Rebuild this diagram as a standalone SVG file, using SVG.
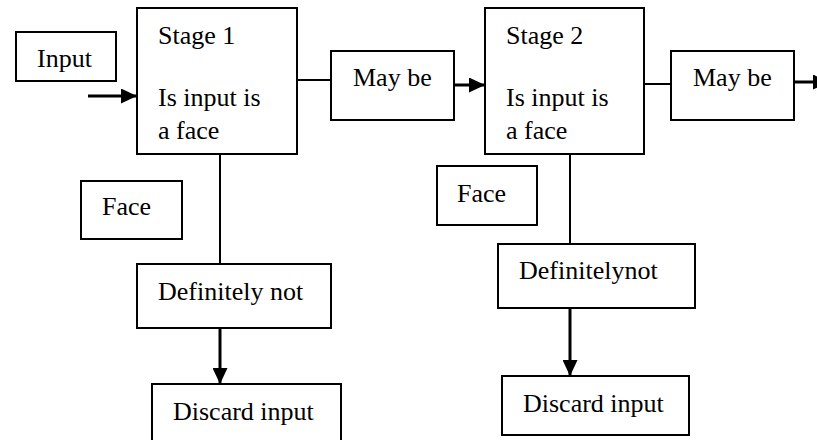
<svg xmlns="http://www.w3.org/2000/svg" width="817" height="440" viewBox="0 0 817 440">
<style>
.box{fill:#fff;stroke:#000;stroke-width:2}
.t{font-family:"Liberation Serif","Times New Roman",serif;font-size:26px;fill:#000}
.ln{stroke:#000;stroke-width:2;fill:none}
.ar{stroke:#000;stroke-width:3;fill:none;marker-end:url(#ah)}
</style>
<defs>
<marker id="ah" markerUnits="userSpaceOnUse" markerWidth="16" markerHeight="15" refX="16" refY="7.5" orient="auto">
<path d="M0,0 L16,7.5 L0,15 z" fill="#000"/>
</marker>
</defs>
<rect width="817" height="440" fill="#fff"/>
<g id="connectors">
<line class="ar" x1="88" y1="96" x2="137" y2="96"/>
<line class="ln" x1="297" y1="80" x2="331" y2="80"/>
<line class="ar" x1="454" y1="85" x2="485" y2="85"/>
<line class="ln" x1="644" y1="84" x2="671" y2="84"/>
<line class="ar" x1="794" y1="82" x2="829" y2="82"/>
<line class="ln" x1="220" y1="154" x2="220" y2="264"/>
<line class="ar" x1="220" y1="328" x2="220" y2="384"/>
<line class="ln" x1="570" y1="154" x2="570" y2="244"/>
<line class="ar" x1="570" y1="308" x2="570" y2="376"/>
</g>
<g id="input"><rect class="box" x="16" y="32" width="100" height="49"/><text class="t" x="37" y="67">Input</text></g>
<g id="stage1"><rect class="box" x="137" y="8" width="160" height="146"/><text class="t" x="158" y="44">Stage 1</text><text class="t" x="158" y="106">Is input is</text><text class="t" x="158" y="139">a face</text></g>
<g id="maybe1"><rect class="box" x="331" y="51" width="123" height="69"/><text class="t" x="353" y="86">May be</text></g>
<g id="stage2"><rect class="box" x="485" y="8" width="159" height="146"/><text class="t" x="506" y="44">Stage 2</text><text class="t" x="506" y="106">Is input is</text><text class="t" x="506" y="139">a face</text></g>
<g id="maybe2"><rect class="box" x="671" y="51" width="123" height="69"/><text class="t" x="693" y="86">May be</text></g>
<g id="face1"><rect class="box" x="81" y="181" width="101" height="58"/><text class="t" x="102" y="215">Face</text></g>
<g id="defnot1"><rect class="box" x="137" y="264" width="194" height="64"/><text class="t" x="158" y="300">Definitely not</text></g>
<g id="discard1"><rect class="box" x="152" y="384" width="189" height="62"/><text class="t" x="173" y="420">Discard input</text></g>
<g id="face2"><rect class="box" x="437" y="166" width="100" height="59"/><text class="t" x="457" y="202">Face</text></g>
<g id="defnot2"><rect class="box" x="498" y="244" width="197" height="64"/><text class="t" x="519" y="279">Definitelynot</text></g>
<g id="discard2"><rect class="box" x="502" y="376" width="187" height="59"/><text class="t" x="523" y="412">Discard input</text></g>
</svg>
